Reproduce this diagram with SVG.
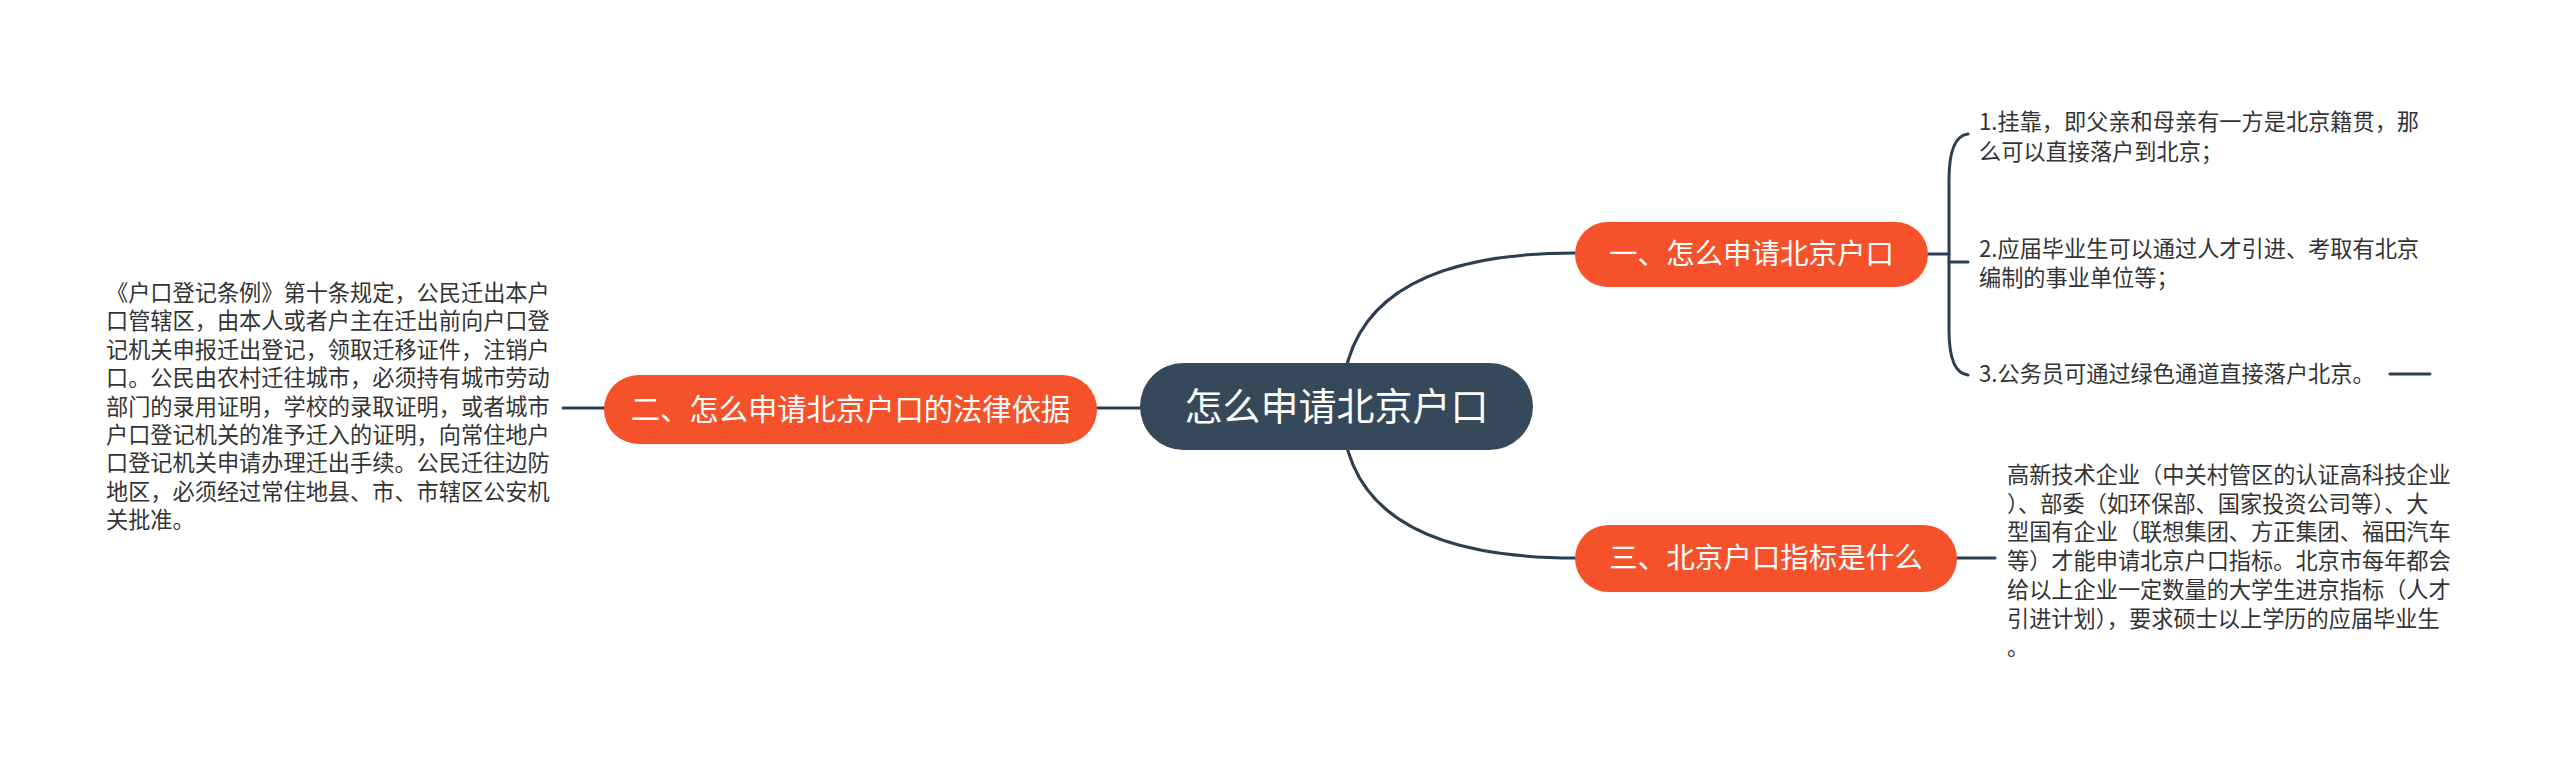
<svg xmlns="http://www.w3.org/2000/svg" width="2560" height="765" viewBox="0 0 2560 765">
<style>
.conn{fill:none;stroke:#2D3E50;stroke-width:3;stroke-linecap:round}
.main{fill:#F5522B}
.mt{font-family:"Noto Sans CJK SC","Noto Sans",sans-serif;fill:#ffffff;text-anchor:middle}
.ct{font-family:"Noto Sans CJK SC","Noto Sans",sans-serif;fill:#333333;font-size:22.2px}
</style>
<rect width="2560" height="765" fill="#ffffff"/>
<g id="connectors">
<path class="conn" d="M1342,406 Q1342,253 1575,253"/>
<path class="conn" d="M1342,406 Q1342,558 1575,558"/>
<path class="conn" d="M1097,408 L1140,408"/>
<path class="conn" d="M563,408 L604,408"/>
<path class="conn" d="M1928,254 L1949,254"/>
<path class="conn" d="M1968,134 Q1949,136 1949,180 L1949,330 Q1949,373 1968,375"/>
<path class="conn" d="M1949,262 L1968,262"/>
<path class="conn" d="M2390,374 L2430,374"/>
<path class="conn" d="M1957,558 L1995,558"/>
</g>
<g id="center">
<rect x="1140" y="363" width="393" height="87" rx="43.5" fill="#36495B"/>
<text class="mt" x="1336.5" y="419.5" font-size="38">怎么申请北京户口</text>
</g>
<g id="n1">
<rect class="main" x="1575" y="222" width="353" height="65" rx="32.5"/>
<text class="mt" x="1751.5" y="264" font-size="28.5">一、怎么申请北京户口</text>
</g>
<g id="n2">
<rect class="main" x="604" y="375" width="493" height="69" rx="34.5"/>
<text class="mt" x="850.5" y="420" font-size="29.3">二、怎么申请北京户口的法律依据</text>
</g>
<g id="n3">
<rect class="main" x="1575" y="525" width="382" height="67" rx="33.5"/>
<text class="mt" x="1766" y="568" font-size="28.5">三、北京户口指标是什么</text>
</g>
<g id="c1">
<text class="ct"><tspan x="1979" y="130">1.挂靠，即父亲和母亲有一方是北京籍贯，那</tspan><tspan x="1979" y="159.5">么可以直接落户到北京；</tspan></text>
</g>
<g id="c2">
<text class="ct"><tspan x="1979" y="256.5">2.应届毕业生可以通过人才引进、考取有北京</tspan><tspan x="1979" y="286">编制的事业单位等；</tspan></text>
</g>
<g id="c3">
<text class="ct" x="1979" y="382">3.公务员可通过绿色通道直接落户北京。</text>
</g>
<g id="c4">
<text class="ct"><tspan x="2007" y="483">高新技术企业（中关村管区的认证高科技企业</tspan><tspan x="2007" y="511.7">）、部委（如环保部、国家投资公司等）、大</tspan><tspan x="2007" y="540.4">型国有企业（联想集团、方正集团、福田汽车</tspan><tspan x="2007" y="569.1">等）才能申请北京户口指标。北京市每年都会</tspan><tspan x="2007" y="597.8">给以上企业一定数量的大学生进京指标（人才</tspan><tspan x="2007" y="626.5">引进计划），要求硕士以上学历的应届毕业生</tspan><tspan x="2007" y="655.2">。</tspan></text>
</g>
<g id="c5">
<text class="ct"><tspan x="106" y="301">《户口登记条例》第十条规定，公民迁出本户</tspan><tspan x="106" y="329.4">口管辖区，由本人或者户主在迁出前向户口登</tspan><tspan x="106" y="357.8">记机关申报迁出登记，领取迁移证件，注销户</tspan><tspan x="106" y="386.2">口。公民由农村迁往城市，必须持有城市劳动</tspan><tspan x="106" y="414.6">部门的录用证明，学校的录取证明，或者城市</tspan><tspan x="106" y="443">户口登记机关的准予迁入的证明，向常住地户</tspan><tspan x="106" y="471.4">口登记机关申请办理迁出手续。公民迁往边防</tspan><tspan x="106" y="499.8">地区，必须经过常住地县、市、市辖区公安机</tspan><tspan x="106" y="528.2">关批准。</tspan></text>
</g>
</svg>
